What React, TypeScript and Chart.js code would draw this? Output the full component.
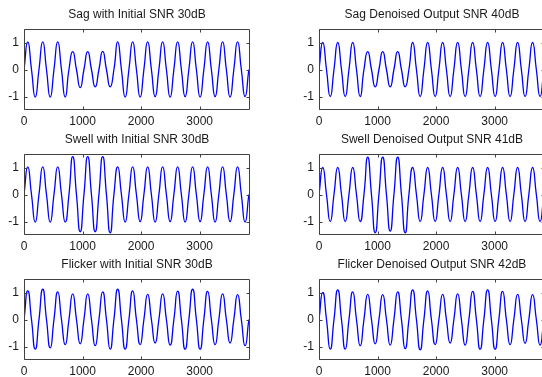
import React, { useEffect, useRef } from "react";
import { Chart, registerables } from "chart.js";
Chart.register(...registerables);

// Sample positions: zero crossings, peaks and troughs of each cycle (256 samples per cycle)
const sampleIndex = [
  0, 64, 128, 192, 256, 320, 384, 448, 512, 576, 640, 704, 768, 832, 896, 960,
  1024, 1088, 1152, 1216, 1280, 1344, 1408, 1472, 1536, 1600, 1664, 1728, 1792,
  1856, 1920, 1984, 2048, 2112, 2176, 2240, 2304, 2368, 2432, 2496, 2560, 2624,
  2688, 2752, 2816, 2880, 2944, 3008, 3072, 3136, 3200, 3264, 3328, 3392, 3456,
  3520, 3584, 3648, 3712, 3776, 3840,
];

// Peak / trough values of each of the 15 cycles
const sagInitialPeaks = [1.02, 1.02, 1.02, 0.66, 0.66, 0.67, 1.02, 1.02, 1.02, 1.02, 1.02, 1.02, 1.02, 1.02, 1.02];
const sagInitialTroughs = [-1.02, -1.02, -1.02, -0.67, -0.64, -0.64, -1.02, -1.02, -1.0, -1.02, -1.0, -1.02, -1.0, -1.02, -1.0];
const sagDenoisedPeaks = [1.0, 1.0, 1.0, 0.66, 0.66, 0.66, 1.0, 1.0, 1.0, 1.0, 1.0, 1.0, 1.0, 1.0, 1.0];
const sagDenoisedTroughs = [-1.0, -1.0, -1.0, -0.64, -0.64, -0.64, -1.0, -1.0, -1.0, -1.0, -1.0, -1.0, -1.0, -1.0, -1.0];

const swellInitialPeaks = [1.02, 1.02, 1.02, 1.4, 1.4, 1.4, 1.02, 1.02, 1.02, 1.02, 1.02, 1.02, 1.02, 1.02, 1.02];
const swellInitialTroughs = [-1.02, -1.02, -1.02, -1.38, -1.38, -1.42, -1.02, -1.0, -1.02, -1.0, -1.02, -1.0, -1.02, -1.0, -1.02];
const swellDenoisedPeaks = [1.0, 1.0, 1.0, 1.38, 1.38, 1.38, 1.0, 1.0, 1.0, 1.0, 1.0, 1.0, 1.0, 1.0, 1.0];
const swellDenoisedTroughs = [-1.0, -1.0, -1.0, -1.42, -1.36, -1.42, -1.0, -1.0, -1.0, -1.0, -1.0, -1.0, -1.0, -1.0, -1.0];

const flickerInitialPeaks = [1.06, 1.12, 1.02, 0.95, 0.95, 1.02, 1.12, 1.06, 0.93, 0.95, 1.05, 1.12, 1.04, 0.95, 0.92];
const flickerInitialTroughs = [-1.1, -1.05, -0.93, -0.9, -0.97, -1.1, -1.1, -0.93, -0.87, -0.95, -1.1, -1.1, -0.93, -0.87, -0.97];
const flickerDenoisedPeaks = [1.0, 1.1, 1.02, 0.93, 0.92, 1.02, 1.1, 1.06, 0.93, 0.95, 1.04, 1.1, 1.04, 0.93, 0.92];
const flickerDenoisedTroughs = [-1.1, -1.1, -0.97, -0.9, -0.95, -1.08, -1.12, -0.93, -0.87, -0.95, -1.1, -1.1, -0.93, -0.88, -0.95];

const titles = [
  "Sag with Initial SNR 30dB",
  "Sag Denoised Output SNR 40dB",
  "Swell with Initial SNR 30dB",
  "Swell Denoised Output SNR 41dB",
  "Flicker with Initial SNR 30dB",
  "Flicker Denoised Output SNR 42dB",
];

const xTickValues = [0, 1000, 2000, 3000];
const yTickValues = [-1, 0, 1];
const xMin = 0;
const xMax = 3860;
const yMin = -1.5;
const yMax = 1.5;

function buildWave(peaks: number[], troughs: number[]) {
  const values: number[] = [];
  for (let k = 0; k < peaks.length; k++) {
    values.push(0, peaks[k], 0, troughs[k]);
  }
  values.push(0);
  return sampleIndex.map((x, i) => ({ x, y: values[i] }));
}

const waves = [
  buildWave(sagInitialPeaks, sagInitialTroughs),
  buildWave(sagDenoisedPeaks, sagDenoisedTroughs),
  buildWave(swellInitialPeaks, swellInitialTroughs),
  buildWave(swellDenoisedPeaks, swellDenoisedTroughs),
  buildWave(flickerInitialPeaks, flickerInitialTroughs),
  buildWave(flickerDenoisedPeaks, flickerDenoisedTroughs),
];

const FONT = "'Liberation Sans', Arial, Helvetica, sans-serif";
const TEXT = "#1a1a1a";
const BOX = "#404040";

type Panel = {
  left: number;
  top: number;
  w: number;
  h: number;
  boxLeft: number;
  boxTop: number;
  boxW: number;
  boxH: number;
};

function panelFor(i: number): Panel {
  const col = i % 2;
  const row = Math.floor(i / 2);
  return {
    left: col === 0 ? 0 : 271,
    top: row * 125,
    w: col === 0 ? 271 : 290,
    h: row === 2 ? 127 : 125,
    boxLeft: col === 0 ? 24 : 48,
    boxTop: 29,
    boxW: 226,
    boxH: 81,
  };
}

const framePlugin = {
  id: "matlabFrame",
  afterDatasetsDraw(chart: any, _args: any, opts: any) {
    const { ctx, chartArea } = chart;
    const xs = chart.scales.x;
    const ys = chart.scales.y;
    ctx.save();
    ctx.strokeStyle = BOX;
    ctx.lineWidth = 1;
    const l = Math.round(chartArea.left) + 0.5;
    const t = Math.round(chartArea.top) + 0.5;
    const r = Math.round(chartArea.right) - 0.5;
    const b = Math.round(chartArea.bottom) - 0.5;
    ctx.beginPath();
    ctx.rect(l, t, r - l, b - t);
    const tl = 3;
    for (const v of xTickValues) {
      const px = Math.round(xs.getPixelForValue(v)) + 0.5;
      ctx.moveTo(px, b);
      ctx.lineTo(px, b - tl);
      ctx.moveTo(px, t);
      ctx.lineTo(px, t + tl);
    }
    for (const v of yTickValues) {
      const py = Math.round(ys.getPixelForValue(v)) + 0.5;
      ctx.moveTo(l, py);
      ctx.lineTo(l + tl, py);
      ctx.moveTo(r, py);
      ctx.lineTo(r - tl, py);
    }
    ctx.stroke();
    // title
    ctx.fillStyle = TEXT;
    ctx.font = `12px ${FONT}`;
    ctx.textAlign = "center";
    ctx.textBaseline = "middle";
    ctx.fillText(opts.text, (chartArea.left + chartArea.right) / 2, 15);
    ctx.restore();
  },
};

function SubPlot({ index }: { index: number }) {
  const ref = useRef<HTMLCanvasElement>(null);
  const p = panelFor(index);
  useEffect(() => {
    if (!ref.current) return;
    const chart = new Chart(ref.current, {
      type: "line",
      data: {
        datasets: [
          {
            data: waves[index],
            borderColor: "#0000ff",
            borderWidth: 1.3,
            pointRadius: 0,
            tension: 0.6,
            fill: false,
          },
        ],
      },
      options: {
        animation: false,
        responsive: false,
        devicePixelRatio: 1,
        layout: {
          padding: { top: p.boxTop, left: 0, bottom: 0, right: p.w - p.boxLeft - p.boxW },
        },
        plugins: {
          legend: { display: false },
          tooltip: { enabled: false },
          title: { display: false },
          matlabFrame: { text: titles[index] },
        } as any,
        scales: {
          x: {
            type: "linear",
            min: xMin,
            max: xMax,
            grid: { display: false, drawTicks: false },
            border: { display: false },
            afterBuildTicks: (s: any) => {
              s.ticks = xTickValues.map((v) => ({ value: v }));
            },
            afterFit: (s: any) => {
              s.height = p.h - p.boxTop - p.boxH;
            },
            ticks: {
              color: TEXT,
              font: { family: FONT, size: 12 },
              padding: 4,
              maxRotation: 0,
              autoSkip: false,
              callback: (v: any) => String(v),
            },
          },
          y: {
            type: "linear",
            min: yMin,
            max: yMax,
            grid: { display: false, drawTicks: false },
            border: { display: false },
            afterBuildTicks: (s: any) => {
              s.ticks = yTickValues.map((v) => ({ value: v }));
            },
            afterFit: (s: any) => {
              s.width = p.boxLeft;
            },
            ticks: {
              color: TEXT,
              font: { family: FONT, size: 12 },
              padding: 5,
              autoSkip: false,
              callback: (v: any) => String(v),
            },
          },
        },
      },
      plugins: [framePlugin],
    });
    return () => chart.destroy();
  }, [index]);
  return (
    <canvas
      ref={ref}
      width={p.w}
      height={p.h}
      style={{ position: "absolute", left: p.left, top: p.top, width: p.w, height: p.h }}
    />
  );
}

export default function App() {
  return (
    <div
      style={{
        position: "fixed",
        left: 0,
        top: 0,
        width: 542,
        height: 377,
        overflow: "hidden",
        background: "#ffffff",
      }}
    >
      {titles.map((_, i) => (
        <SubPlot key={i} index={i} />
      ))}
    </div>
  );
}
